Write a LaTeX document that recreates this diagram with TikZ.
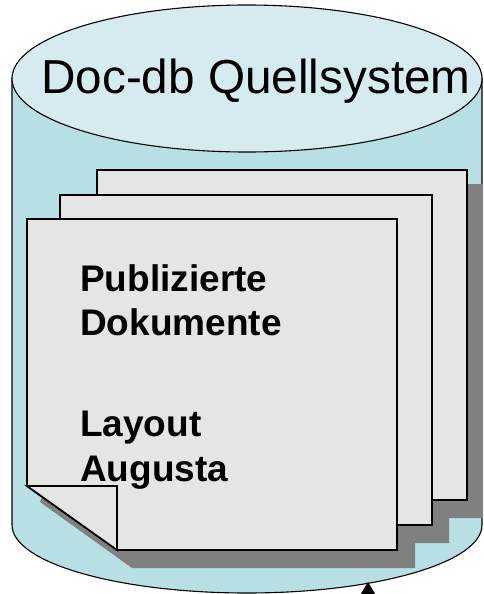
\documentclass[tikz,border=0pt]{standalone}
\usepackage{fontspec}
\setmainfont{Liberation Sans}
\usetikzlibrary{arrows.meta}
\definecolor{body}{HTML}{B8DFE3}
\definecolor{lid}{HTML}{D6EBEF}
\definecolor{sheet}{HTML}{E5E5E5}
\definecolor{shade}{HTML}{808080}
\tikzset{
  sheetbox/.style={draw=black,line width=1.7pt,fill=sheet,line join=miter},
  shadowbox/.style={fill=shade,draw=none},
  drum/.style={draw=black,line width=1.1pt},
  title/.style={font=\fontsize{47.7}{48}\selectfont,anchor=base west,inner sep=0pt},
  bodytext/.style={font=\bfseries\fontsize{37}{44.5}\selectfont,anchor=base west,inner sep=0pt,align=left},
}
\begin{document}
\begin{tikzpicture}[x=1pt,y=-1pt]
\useasboundingbox (0,0) rectangle (483,594);
\clip (0,0) rectangle (483,594);
% cylinder
\draw[drum,fill=body] (12,78) -- (12,525) arc[start angle=180,end angle=0,x radius=235,y radius=68] -- (482,78) -- cycle;
\draw[drum,fill=lid] (247,78.5) ellipse[x radius=235,y radius=73.5];
% shared stepped shadow of the three sheets
\fill[shadowbox] (460,184) -- (483,184) -- (483,518) -- (449,518) -- (449,543) -- (415,543) -- (415,568) -- (132,568) -- (40,502) -- (45,490) -- (300,300) -- cycle;
% sheets: the two rear ones stop under the sheet in front
\draw[sheetbox] (97,300) -- (97,170) -- (467,170) -- (467,500) -- (420,500) -- (420,300);
\draw[sheetbox] (60,300) -- (60,195) -- (432,195) -- (432,525) -- (380,525) -- (380,300);
\draw[sheetbox] (27,219) -- (397,219) -- (397,550) -- (117,550) -- (27,486) -- cycle;
\draw[sheetbox] (27,486) -- (117,486) -- (117,550) -- cycle;
% text
\node[title] (heading) at (41,93) {Doc-db Quellsystem};
\node[bodytext] (pub) at (80,291) {Publizierte};
\node[bodytext] (dok) at (80,335) {Dokumente};
\node[bodytext] (lay) at (80,436) {Layout};
\node[bodytext] (aug) at (80,481) {Augusta};
% arrow entering at the bottom edge
\coordinate (tip) at (368,582);
\coordinate (tail) at (368,630);
\draw[line width=1.4pt,-{Triangle[length=17pt,width=20pt]}] (tail) -- (tip);
\end{tikzpicture}
\end{document}
